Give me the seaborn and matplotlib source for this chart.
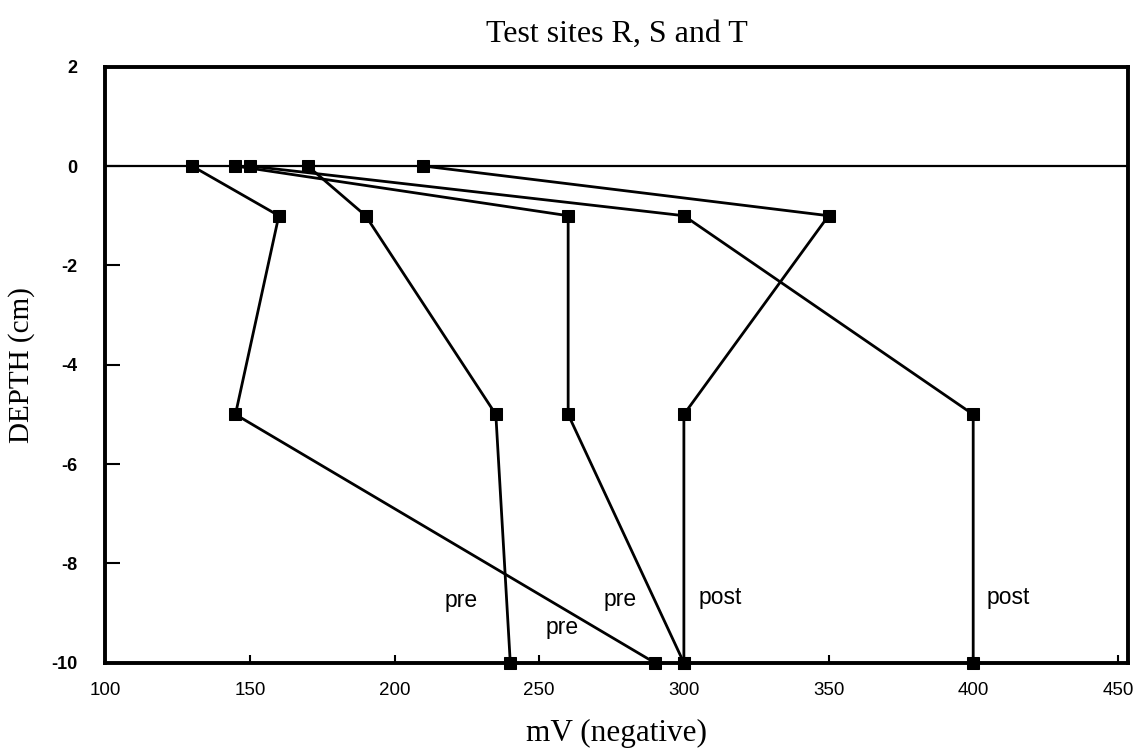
import matplotlib
matplotlib.use("Agg")
import matplotlib.pyplot as plt
import seaborn as sns
import pandas as pd

# Redox potential profiles (mV, negative) against depth (cm) for sites R, S and T
depths = [0, -1, -5, -10]
profile_1 = [130, 160, 145, 290]
profile_2 = [170, 190, 235, 240]
profile_3 = [145, 260, 260, 300]
profile_4 = [150, 300, 400, 400]
profile_5 = [210, 350, 300, 300]

profiles = {"1": profile_1, "2": profile_2, "3": profile_3,
            "4": profile_4, "5": profile_5}

# Annotation text and anchor positions (mV, depth)
note_texts = ["pre", "pre", "pre", "post", "post"]
note_x = [223, 278, 258, 312.5, 412]
note_y = [-8.75, -8.72, -9.28, -8.68, -8.68]

x_ticks = [100, 150, 200, 250, 300, 350, 400, 450]
y_ticks = [2, 0, -2, -4, -6, -8, -10]

rows = []
for name, vals in profiles.items():
    for mv, d in zip(vals, depths):
        rows.append({"profile": name, "mV": mv, "depth": d})
df = pd.DataFrame(rows)

sns.set_theme(style="white")
plt.rcParams["font.family"] = ["Liberation Sans", "DejaVu Sans"]
plt.rcParams["text.color"] = "black"

fig = plt.figure(figsize=(11.44, 7.49), dpi=100)
ax = fig.add_axes([0.092, 0.115, 0.894, 0.796])

ax.axhline(0, color="black", lw=1.6, zorder=1)

sns.lineplot(data=df, x="mV", y="depth", units="profile", estimator=None,
             sort=False, color="black", lw=2.0, marker="s", markersize=8.5,
             markeredgecolor="black", markerfacecolor="black", ax=ax,
             zorder=3, clip_on=False)

for t, x, y in zip(note_texts, note_x, note_y):
    ax.text(x, y, t, fontsize=16.5, ha="center", va="center", color="black",
            family=["Liberation Sans", "DejaVu Sans"])

ax.set_xlim(100, 453.5)
ax.set_ylim(-10, 2)
ax.set_xticks(x_ticks)
ax.set_yticks(y_ticks)
ax.set_xticklabels([str(v) for v in x_ticks], fontsize=13.5)
ax.set_yticklabels([str(v) for v in y_ticks], fontsize=13, fontweight="bold")

ax.tick_params(axis="y", direction="in", length=11, width=1.5, pad=20,
               left=True, colors="black")
ax.tick_params(axis="x", direction="in", length=6, width=1.5, pad=14,
               bottom=True, colors="black")

for side in ["left", "right", "top", "bottom"]:
    ax.spines[side].set_visible(True)
    ax.spines[side].set_color("black")
    ax.spines[side].set_linewidth(2.8)

ax.set_xlabel("mV (negative)", fontsize=22.5, family="Liberation Serif",
              color="black", labelpad=14)
ax.set_ylabel("DEPTH (cm)", fontsize=21, family="Liberation Serif",
              color="black", labelpad=12)
ax.set_title("Test sites R, S and T", fontsize=23, family="Liberation Serif",
             color="black", pad=18)

fig.savefig("out.png", dpi=100, facecolor="white")
